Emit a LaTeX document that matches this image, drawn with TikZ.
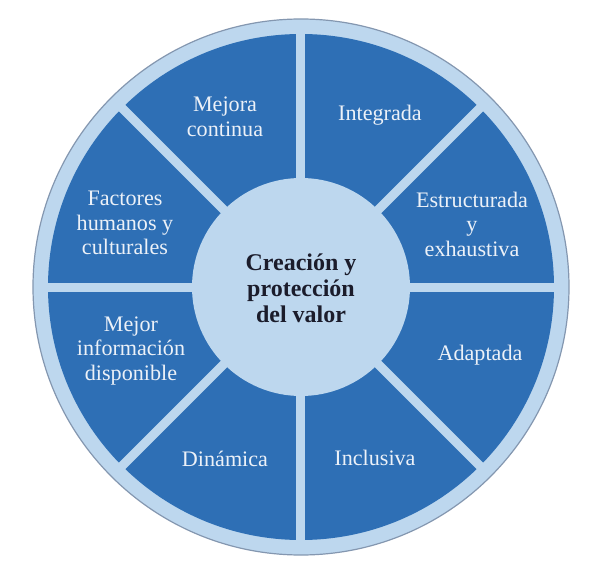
\documentclass[tikz,border=0pt]{standalone}
\usepackage{fontspec}
\setmainfont{Liberation Serif}
\usepackage{xcolor}
\usetikzlibrary{positioning}
\definecolor{wheelblue}{RGB}{46,111,181}
\definecolor{wheellight}{RGB}{189,215,238}
\definecolor{wheelrim}{RGB}{132,151,176}
\definecolor{wheeltext}{RGB}{236,241,248}
\definecolor{coretext}{RGB}{27,28,43}

\begin{document}
\begin{tikzpicture}[
  x=0.75pt, y=0.75pt,
  seg/.style={text=wheeltext, align=center, inner sep=0pt,
              font=\fontsize{16.6}{18.4}\selectfont},
  core/.style={text=coretext, align=center, inner sep=0pt,
               font=\fontsize{18}{19.5}\selectfont\bfseries},
  gap/.style={draw=wheellight, line width=6.75pt}
]
\useasboundingbox (-301,-295) rectangle (310,287);
\fill[white] (-301,-295) rectangle (310,287);
% wheel: rim, dark ring, spokes, hub
\draw[fill=wheellight, draw=wheelrim, line width=0.9pt] (0,0) circle (268);
\fill[wheelblue] (0,0) circle (253);
\foreach \a in {0,45,90,135}
  \draw[gap] (\a:256) -- (\a+180:256);
\fill[wheellight] (0,0) circle (109);
\node[core] (core) at (0,-1) {Creación y\\protección\\del valor};
% segment labels
\node[seg] (mejora) at (-76,170) {Mejora\\continua};
\node[seg] (integ) at (79,172) {Integrada};
\node[seg] (estruc) at (171,63) {Estructurada\\y\\exhaustiva};
\node[seg] (adapt) at (179,-68) {Adaptada};
\node[seg] (inclus) at (74,-171) {Inclusiva};
\node[seg] (dinam) at (-76,-172) {Dinámica};
\node[seg] (info) at (-170,-64) {Mejor\\información\\disponible};
\node[seg] (factor) at (-176,64) {Factores\\humanos y\\culturales};
\end{tikzpicture}
\end{document}
